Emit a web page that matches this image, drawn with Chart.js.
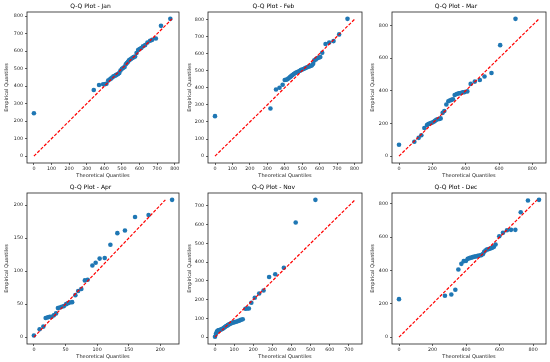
<!DOCTYPE html>
<html>
<head>
<meta charset="utf-8">
<script src="https://cdn.jsdelivr.net/npm/chart.js@4.4.1/dist/chart.umd.min.js"></script>
<style>
  html, body { margin: 0; padding: 0; background: #fff; }
  #wrap { position: relative; width: 550px; height: 362px; }
  #wrap canvas { position: absolute; }
</style>
</head>
<body>
<div id="wrap">
  <canvas id="c0" width="183" height="181" style="left:0px;top:0px"></canvas>
  <canvas id="c1" width="183" height="181" style="left:183px;top:0px"></canvas>
  <canvas id="c2" width="184" height="181" style="left:366px;top:0px"></canvas>
  <canvas id="c3" width="183" height="181" style="left:0px;top:181px"></canvas>
  <canvas id="c4" width="183" height="181" style="left:183px;top:181px"></canvas>
  <canvas id="c5" width="184" height="181" style="left:366px;top:181px"></canvas>
</div>
<script>
// theoretical (x) and empirical (y) quantiles
const janX = [0, 340, 370, 393, 405, 412, 422, 430, 437, 445, 452, 460, 466, 472, 478, 485, 492, 500, 508, 515, 522, 528, 535, 540, 547, 553, 560, 567, 575, 583, 592, 600, 610, 620, 632, 645, 660, 672, 693, 722, 775];
const janY = [245, 378, 407, 411, 412, 414, 432, 438, 443, 450, 456, 460, 463, 467, 470, 476, 490, 500, 505, 510, 525, 532, 540, 548, 552, 557, 562, 566, 570, 590, 607, 612, 618, 628, 635, 650, 660, 665, 673, 745, 785];

const febX = [0, 318, 350, 370, 388, 400, 408, 415, 422, 430, 437, 444, 452, 460, 468, 476, 484, 492, 500, 508, 516, 524, 532, 540, 548, 556, 563, 570, 578, 586, 595, 604, 615, 634, 655, 680, 712, 760];
const febY = [234, 279, 390, 400, 418, 445, 447, 450, 455, 462, 468, 474, 480, 486, 490, 494, 498, 503, 507, 510, 514, 518, 521, 524, 527, 531, 540, 560, 566, 572, 576, 580, 605, 656, 665, 673, 712, 803];

const marX = [0, 92, 118, 134, 152, 168, 176, 184, 192, 200, 208, 216, 224, 232, 242, 250, 262, 272, 284, 296, 304, 314, 324, 334, 346, 358, 370, 382, 394, 410, 430, 455, 485, 513, 555, 607, 699];
const marY = [70, 88, 112, 128, 172, 190, 196, 200, 203, 206, 210, 216, 222, 226, 228, 231, 265, 276, 316, 336, 340, 344, 348, 374, 380, 384, 386, 390, 392, 396, 442, 456, 466, 487, 509, 679, 840];

const aprX = [0, 9, 15, 18.6, 22, 25, 28, 31.5, 35, 38, 41, 44, 47.5, 51, 54, 57, 60.5, 65.6, 70, 75, 80.6, 85, 92.5, 97.7, 104, 112, 121, 132, 144, 160, 181.4, 218.6];
const aprY = [2.5, 12, 16, 29, 30, 31, 31, 33, 36, 44, 45, 46, 47, 50, 51.5, 52.5, 53, 63.6, 70, 73, 86, 87, 108.6, 112.6, 119, 120, 140, 157.6, 161.6, 182, 185, 208];

const novX = [0, 5, 10, 14, 18, 22, 27, 32, 37, 42, 47, 52, 57, 62, 67, 72, 77, 82, 88, 95, 102, 110, 118, 126, 135, 145, 159, 168, 177, 190, 208, 231, 254, 283, 315, 360, 422, 525];
const novY = [2, 18, 30, 34, 36, 37, 39, 41, 43, 46, 50, 54, 58, 61, 64, 67, 70, 73, 76, 78, 80, 82, 85, 88, 92, 95, 151, 153, 153, 183, 210, 233, 249, 321, 335, 370, 611, 732];

const decX = [0, 274, 312, 336, 354, 372, 386, 400, 410, 420, 430, 440, 450, 460, 470, 480, 490, 500, 508, 516, 524, 532, 540, 548, 556, 566, 576, 598, 620, 644, 668, 694, 726, 769, 835];
const decY = [228, 248, 256, 284, 406, 440, 456, 458, 470, 474, 477, 480, 483, 485, 488, 490, 492, 498, 512, 520, 526, 528, 531, 534, 537, 542, 556, 606, 626, 642, 644, 644, 750, 820, 824];

// tick labels
const ticks100 = [0, 100, 200, 300, 400, 500, 600, 700, 800];
const ticks200 = [0, 200, 400, 600, 800];
const ticks50 = [0, 50, 100, 150, 200];
const ticksNov = [0, 100, 200, 300, 400, 500, 600, 700];

const panels = [
  { id: 'c0', title: 'Q-Q Plot - Jan', x: janX, y: janY, xt: ticks100, yt: ticks100, yw: 27, pr: 2 },
  { id: 'c1', title: 'Q-Q Plot - Feb', x: febX, y: febY, xt: ticks100, yt: ticks100, yw: 25, pr: 2 },
  { id: 'c2', title: 'Q-Q Plot - Mar', x: marX, y: marY, xt: ticks200, yt: ticks200, yw: 26, pr: 4 },
  { id: 'c3', title: 'Q-Q Plot - Apr', x: aprX, y: aprY, xt: ticks50, yt: ticks50, yw: 27, pr: 2 },
  { id: 'c4', title: 'Q-Q Plot - Nov', x: novX, y: novY, xt: ticksNov, yt: ticksNov, yw: 25, pr: 2 },
  { id: 'c5', title: 'Q-Q Plot - Dec', x: decX, y: decY, xt: ticks200, yt: ticks200, yw: 26, pr: 4 }
];

const FONT = 'DejaVu Sans';

// full black frame around the plot area
const framePlugin = {
  id: 'frame',
  afterDraw(chart) {
    const a = chart.chartArea, ctx = chart.ctx;
    ctx.save();
    ctx.strokeStyle = '#222';
    ctx.lineWidth = 0.8;
    ctx.strokeRect(a.left, a.top, a.right - a.left, a.bottom - a.top);
    ctx.restore();
  }
};

function padRange(vals) {
  const lo = Math.min(...vals), hi = Math.max(...vals);
  const m = (hi - lo) * 0.05;
  return [lo - m, hi + m];
}

panels.forEach(p => {
  const pts = p.x.map((v, i) => ({ x: v, y: p.y[i] }));
  const l0 = Math.min(...p.x), l1 = Math.max(...p.y);
  const line = [{ x: l0, y: l0 }, { x: l1, y: l1 }];
  const xr = padRange(p.x.concat([l0, l1]));
  const yr = padRange(p.y.concat([l0, l1]));

  new Chart(document.getElementById(p.id), {
    type: 'scatter',
    data: {
      datasets: [
        {
          type: 'line',
          data: line,
          borderColor: 'rgb(255, 0, 0)',
          backgroundColor: 'rgb(255, 0, 0)',
          borderWidth: 1.2,
          borderDash: [3.2, 1.6],
          pointRadius: 0,
          fill: false,
          order: 0
        },
        {
          data: pts,
          backgroundColor: '#1f77b4',
          borderWidth: 0,
          pointRadius: 2.3,
          order: 1
        }
      ]
    },
    options: {
      responsive: false,
      animation: false,
      devicePixelRatio: 1,
      layout: { padding: { top: 0, right: p.pr, bottom: 0, left: 0 } },
      plugins: {
        legend: { display: false },
        tooltip: { enabled: false },
        title: {
          display: true,
          text: p.title,
          color: '#000',
          font: { family: FONT, size: 6, weight: 'normal', lineHeight: 1 },
          padding: { top: 3, bottom: 3 }
        }
      },
      scales: {
        x: {
          type: 'linear',
          min: xr[0],
          max: xr[1],
          afterBuildTicks: s => { s.ticks = p.xt.map(v => ({ value: v })); },
          afterFit: s => { s.height = 18; },
          grid: { drawOnChartArea: false, drawTicks: true, tickLength: 2, color: '#222', lineWidth: 0.7 },
          border: { display: false },
          ticks: { color: '#222', padding: 1, maxRotation: 0, autoSkip: false, font: { family: FONT, size: 4.8 } },
          title: { display: true, text: 'Theoretical Quantiles', color: '#222', padding: { top: 0, bottom: 2 }, font: { family: FONT, size: 5 } }
        },
        y: {
          type: 'linear',
          min: yr[0],
          max: yr[1],
          afterBuildTicks: s => { s.ticks = p.yt.map(v => ({ value: v })); },
          afterFit: s => { s.width = p.yw; },
          grid: { drawOnChartArea: false, drawTicks: true, tickLength: 2, color: '#222', lineWidth: 0.7 },
          border: { display: false },
          ticks: { color: '#222', padding: 2, autoSkip: false, font: { family: FONT, size: 4.8 } },
          title: { display: true, text: 'Empirical Quantiles', color: '#222', padding: { top: 4, bottom: 0 }, font: { family: FONT, size: 5 } }
        }
      }
    },
    plugins: [framePlugin]
  });
});
</script>
</body>
</html>
